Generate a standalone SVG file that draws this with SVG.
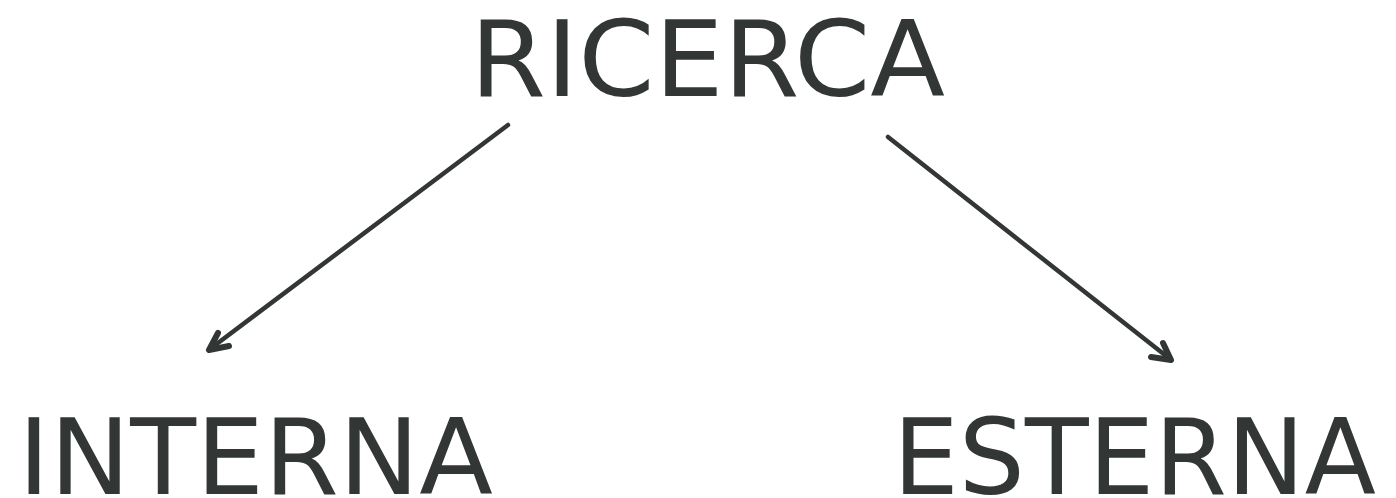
<svg xmlns="http://www.w3.org/2000/svg" width="1396" height="498" viewBox="0 0 1396 498">
<style>
.lbl{font-family:"DejaVu Sans","Verdana",sans-serif;font-size:105px;fill:#323634}
.edge{stroke:#323634;stroke-width:4.5;fill:none;stroke-linecap:round}
.head{stroke:#323634;stroke-width:6;fill:none;stroke-linecap:round;stroke-linejoin:round}
</style>
<rect width="1396" height="498" fill="#ffffff"/>
<g id="ricerca"><text class="lbl" x="470" y="96" textLength="475" lengthAdjust="spacingAndGlyphs">RICERCA</text></g>
<g id="interna"><text class="lbl" x="18" y="494" textLength="475" lengthAdjust="spacingAndGlyphs">INTERNA</text></g>
<g id="esterna"><text class="lbl" x="893" y="494" textLength="483" lengthAdjust="spacingAndGlyphs">ESTERNA</text></g>
<g id="connectors">
<line class="edge" x1="508" y1="125" x2="210" y2="349"/>
<polyline class="head" points="218,333 209,350 229,346"/>
<line class="edge" x1="888" y1="137" x2="1170" y2="359"/>
<polyline class="head" points="1163,343 1171,360 1151,357"/>
</g>
</svg>
